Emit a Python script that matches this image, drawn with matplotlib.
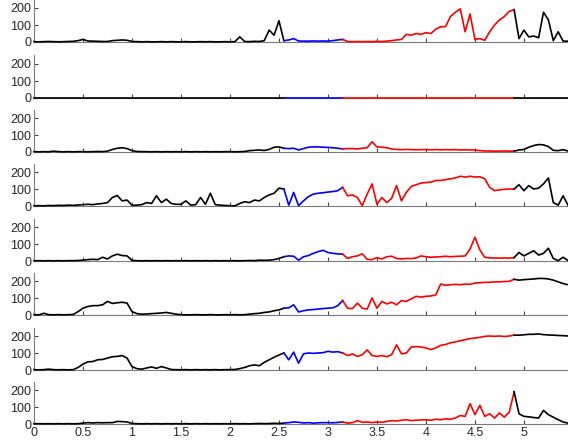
import numpy as np
import matplotlib
matplotlib.use('Agg')
import matplotlib.pyplot as plt

# time axis shared by all traces (one sample every 0.05)
t = np.round(np.arange(0, 5.46, 0.05), 2)

# phase boundaries (indices into t): black | blue | red | black
I_BLUE = 51   # t = 2.55
I_RED = 63    # t = 3.15
I_END = 98    # t = 4.90

p1 = [2, 1, 2, 3, 2, 1, 2, 3, 4, 8,
      15, 6, 5, 4, 3, 3, 8, 10, 12, 10,
      3, 2, 1, 2, 1, 1, 2, 1, 2, 1,
      1, 2, 1, 1, 2, 1, 2, 1, 1, 2,
      1, 2, 30, 3, 2, 4, 3, 8, 70, 40,
      125, 8, 12, 20, 6, 5, 5, 6, 5, 6,
      5, 8, 12, 15, 3, 2, 3, 2, 3, 2,
      4, 3, 5, 8, 12, 15, 45, 40, 50, 45,
      55, 50, 75, 90, 90, 150, 175, 195, 60, 165,
      15, 20, 10, 60, 100, 130, 150, 180, 190, 20,
      70, 30, 35, 25, 175, 130, 8, 60, 5, 5]

p2 = [0, 0, 0, 0, 0, 0, 0, 0, 0, 0,
      0, 0, 0, 0, 0, 0, 0, 0, 0, 0,
      0, 0, 0, 0, 0, 0, 0, 0, 0, 0,
      0, 0, 0, 0, 0, 0, 0, 0, 0, 0,
      0, 0, 0, 0, 0, 0, 0, 0, 0, 0,
      0, 0, 0, 0, 0, 0, 0, 0, 0, 0,
      0, 0, 0, 0, 0, 0, 0, 0, 0, 0,
      0, 0, 0, 0, 0, 0, 0, 0, 0, 0,
      0, 0, 0, 0, 0, 0, 0, 0, 0, 0,
      0, 0, 0, 0, 0, 0, 0, 0, 0, 0,
      0, 0, 0, 0, 0, 0, 0, 0, 0, 0]

p3 = [2, 1, 2, 1, 5, 2, 1, 2, 1, 2,
      2, 1, 2, 3, 2, 5, 15, 22, 25, 20,
      8, 3, 2, 2, 1, 2, 1, 2, 1, 2,
      1, 2, 1, 2, 1, 2, 1, 2, 1, 2,
      2, 1, 2, 3, 8, 10, 12, 9, 15, 28,
      30, 22, 20, 22, 12, 20, 28, 30, 30, 28,
      27, 25, 22, 18, 20, 20, 18, 22, 25, 60,
      30, 28, 25, 18, 15, 14, 15, 14, 13, 14,
      14, 13, 14, 13, 14, 13, 14, 12, 13, 12,
      12, 8, 6, 6, 5, 5, 6, 5, 5, 12,
      15, 28, 38, 44, 42, 32, 10, 8, 14, 6]

p4 = [1, 2, 1, 3, 2, 4, 3, 5, 4, 6,
      8, 10, 8, 12, 15, 20, 50, 62, 30, 35,
      4, 5, 8, 20, 15, 60, 20, 40, 15, 10,
      10, 30, 5, 8, 50, 10, 75, 8, 5, 3,
      2, 1, 15, 25, 20, 35, 30, 50, 65, 75,
      105, 100, 5, 80, 2, 30, 55, 70, 75, 78,
      82, 85, 90, 110, 60, 65, 50, 2, 70, 130,
      10, 50, 20, 45, 120, 30, 80, 115, 125, 135,
      138, 140, 150, 150, 155, 160, 165, 175, 170, 175,
      170, 172, 160, 110, 90, 95, 98, 100, 100, 125,
      90, 120, 100, 105, 130, 165, 20, 5, 60, 5]

p5 = [1, 2, 1, 2, 1, 2, 1, 2, 2, 3,
      5, 8, 10, 8, 22, 12, 30, 40, 32, 30,
      3, 2, 1, 2, 1, 2, 1, 2, 1, 2,
      1, 2, 1, 2, 1, 2, 1, 2, 1, 2,
      1, 2, 1, 2, 3, 2, 5, 4, 5, 8,
      15, 25, 30, 28, 5, 25, 32, 45, 55, 63,
      50, 45, 42, 40, 15, 25, 30, 42, 10, 8,
      20, 12, 25, 28, 15, 12, 15, 14, 18, 30,
      25, 22, 24, 25, 28, 25, 27, 28, 30, 70,
      140, 65, 22, 18, 18, 17, 18, 17, 20, 50,
      30, 45, 60, 35, 45, 75, 15, 2, 22, 3]

p6 = [2, 1, 10, 2, 1, 2, 1, 2, 3, 20,
      40, 50, 55, 55, 60, 80, 68, 72, 75, 70,
      20, 8, 5, 6, 8, 10, 12, 15, 10, 5,
      2, 1, 1, 2, 1, 1, 2, 1, 1, 2,
      1, 2, 1, 2, 5, 8, 10, 15, 18, 25,
      30, 40, 42, 60, 18, 25, 30, 32, 35, 38,
      40, 42, 55, 85, 40, 38, 70, 40, 35, 100,
      40, 80, 65, 75, 60, 85, 80, 95, 110, 105,
      110, 112, 118, 182, 175, 178, 180, 178, 182, 180,
      188, 190, 192, 192, 195, 195, 197, 198, 210, 205,
      208, 210, 212, 215, 215, 212, 205, 195, 185, 178]

p7 = [2, 1, 2, 5, 2, 1, 2, 1, 2, 15,
      35, 48, 50, 60, 62, 70, 78, 80, 85, 70,
      20, 8, 5, 12, 18, 10, 20, 12, 3, 2,
      1, 2, 1, 2, 1, 2, 1, 2, 1, 2,
      2, 3, 8, 15, 25, 30, 25, 45, 60, 75,
      88, 100, 60, 105, 40, 95, 100, 98, 100, 102,
      110, 105, 108, 100, 85, 95, 80, 90, 118, 85,
      80, 85, 78, 90, 148, 95, 100, 135, 138, 135,
      130, 120, 130, 145, 150, 160, 165, 172, 178, 185,
      188, 192, 198, 200, 198, 200, 197, 200, 205, 205,
      207, 210, 210, 212, 208, 206, 205, 203, 202, 200]

p8 = [1, 2, 1, 2, 1, 2, 1, 2, 1, 2,
      5, 8, 6, 8, 7, 8, 8, 15, 14, 12,
      3, 2, 1, 2, 1, 2, 1, 2, 1, 2,
      1, 2, 1, 2, 1, 2, 1, 2, 1, 2,
      1, 2, 1, 2, 1, 2, 3, 2, 3, 4,
      3, 5, 8, 12, 10, 6, 8, 5, 7, 8,
      8, 7, 9, 12, 5, 8, 20, 10, 12, 8,
      12, 10, 15, 20, 18, 22, 25, 20, 22, 24,
      25, 22, 28, 25, 30, 28, 35, 50, 45, 120,
      55, 110, 45, 60, 35, 65, 40, 70, 190, 60,
      45, 42, 38, 35, 80, 55, 40, 25, 12, 5]

traces = [p1, p2, p3, p4, p5, p6, p7, p8]

xticks = [0, 0.5, 1, 1.5, 2, 2.5, 3, 3.5, 4, 4.5, 5]
xticklabels = ['0', '0.5', '1', '1.5', '2', '2.5', '3', '3.5', '4', '4.5', '5']
yticks = [0, 100, 200]

AXCOL = '#7a7a7a'
TXTCOL = '#262626'
LW = 1.2

plt.rcParams['font.family'] = ['Liberation Sans', 'DejaVu Sans']

W, H = 568, 440
fig = plt.figure(figsize=(W / 100, H / 100), dpi=100)

zero_px = [42, 98, 152, 206, 261, 315, 370, 424]  # baseline of each panel
panel_h = 42.5

for k, y in enumerate(traces):
    y = np.asarray(y, dtype=float)
    ax = fig.add_axes([34 / W, 1 - zero_px[k] / H, 1 - 34 / W, panel_h / H])

    # draw on top of the axis line, unclipped so flat parts stay visible
    kw = dict(lw=LW, zorder=3, clip_on=False)
    ax.plot(t[:I_BLUE + 1], y[:I_BLUE + 1], color='k', **kw)
    ax.plot(t[I_BLUE:I_RED + 1], y[I_BLUE:I_RED + 1], color='#0000ff', **kw)
    ax.plot(t[I_RED:I_END + 1], y[I_RED:I_END + 1], color='#ff0000', **kw)
    ax.plot(t[I_END:], y[I_END:], color='k', **kw)

    ax.set_xlim(0, 5.45)
    ax.set_ylim(0, 250)
    ax.set_yticks(yticks)
    ax.set_xticks(xticks)
    if k == len(traces) - 1:
        ax.set_xticklabels(xticklabels)
    else:
        ax.set_xticklabels([])

    for s in ['top', 'right']:
        ax.spines[s].set_visible(False)
    for s in ['left', 'bottom']:
        ax.spines[s].set_color(AXCOL)
        ax.spines[s].set_linewidth(0.8)
    ax.tick_params(direction='in', length=3, width=0.8, color='#444444',
                   labelsize=9, labelcolor=TXTCOL, pad=2)
    ax.patch.set_alpha(0)

fig.savefig('out.png', dpi=100)
